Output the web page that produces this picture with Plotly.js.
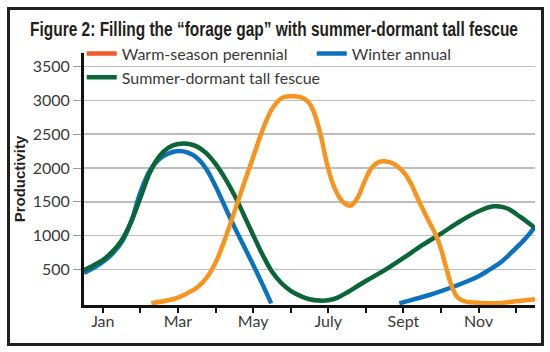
<!DOCTYPE html>
<html>
<head>
<meta charset="utf-8">
<script src="https://cdn.plot.ly/plotly-3.0.1.min.js"></script>
<style>
  html, body { margin: 0; padding: 0; background: #fff; }
  #wrap { position: relative; width: 550px; height: 352px; }
  #chart { width: 550px; height: 352px; }
  #frame { position: absolute; left: 7px; top: 7px; width: 531px; height: 333px;
           border: 3px solid #231f20; pointer-events: none; }
</style>
</head>
<body>
<div id="wrap"><div id="chart"></div><div id="frame"></div></div>
<script>
// Month index: Jan = 1 ... Dec = 12
const monthTicks = [1, 2, 3, 4, 5, 6, 7, 8, 9, 10, 11, 12];
const monthLabels = ["Jan", "", "Mar", "", "May", "", "July", "", "Sept", "", "Nov", ""];
const yTicks = [500, 1000, 1500, 2000, 2500, 3000, 3500];

const seriesNames = ["Warm-season perennial", "Winter annual", "Summer-dormant tall fescue"];

const warmX = [2.29, 2.75, 3.0, 3.25, 3.5, 3.75, 4.0, 4.25, 4.5, 4.75, 5.0, 5.25, 5.5, 5.75, 6.0, 6.25, 6.45, 6.6, 6.78, 6.95, 7.1, 7.3, 7.45, 7.6, 7.78, 7.95, 8.15, 8.35, 8.5, 8.75, 9.0, 9.2, 9.42, 9.65, 9.87, 10.0, 10.15, 10.3, 10.45, 10.66, 11.0, 11.46, 12.0, 12.5];
const warmY = [0, 45, 85, 150, 230, 370, 600, 950, 1350, 1760, 2160, 2560, 2870, 3030, 3060, 3050, 2990, 2850, 2530, 2100, 1800, 1560, 1470, 1444, 1560, 1780, 2000, 2090, 2100, 2060, 1940, 1770, 1500, 1240, 1000, 800, 500, 230, 80, 24, 8, 0, 30, 60];

const winterX = [0.5, 0.75, 1.0, 1.25, 1.5, 1.75, 2.0, 2.25, 2.5, 2.75, 3.0, 3.25, 3.5, 3.75, 4.0, 4.25, 4.5, 4.75, 5.0, 5.25, 5.48, null, 8.89, 9.25, 9.69, 10.0, 10.57, 11.0, 11.28, 11.6, 11.9, 12.2, 12.5];
const winterY = [450, 520, 610, 730, 900, 1200, 1640, 1960, 2130, 2215, 2250, 2230, 2150, 1990, 1730, 1430, 1130, 850, 570, 280, 0, null, 0, 55, 123, 180, 297, 400, 494, 610, 766, 930, 1130];

const fescueX = [0.5, 0.75, 1.0, 1.25, 1.5, 1.75, 2.0, 2.25, 2.5, 2.75, 3.0, 3.25, 3.5, 3.75, 4.0, 4.25, 4.5, 4.75, 5.0, 5.25, 5.5, 5.75, 6.0, 6.25, 6.5, 6.75, 7.0, 7.25, 7.5, 7.75, 8.0, 8.5, 9.0, 9.5, 10.0, 10.5, 11.0, 11.4, 11.75, 12.1, 12.5];
const fescueY = [494, 560, 640, 760, 930, 1200, 1560, 1930, 2170, 2300, 2355, 2360, 2320, 2220, 2060, 1850, 1600, 1310, 1010, 720, 470, 300, 185, 110, 60, 40, 45, 85, 160, 245, 330, 490, 670, 860, 1030, 1210, 1360, 1433, 1405, 1280, 1113];

const colors = { warmLine: "#f7941d", warmKey: "#f15a29", winter: "#0d72bd", fescue: "#0b6637" };

const traces = [
  { x: winterX, y: winterY, name: seriesNames[1], mode: "lines", type: "scatter",
    line: { color: colors.winter, width: 4.5, shape: "spline", smoothing: 1 },
    connectgaps: false, legendrank: 2, hoverinfo: "skip" },
  { x: fescueX, y: fescueY, name: seriesNames[2], mode: "lines", type: "scatter",
    line: { color: colors.fescue, width: 4.5, shape: "spline", smoothing: 1 },
    legendrank: 3, hoverinfo: "skip" },
  { x: warmX, y: warmY, name: seriesNames[0], mode: "lines", type: "scatter",
    line: { color: colors.warmLine, width: 4.5, shape: "spline", smoothing: 1 },
    showlegend: false, hoverinfo: "skip" },
  // legend key for the warm-season series (drawn in its key colour)
  { x: [null], y: [null], name: seriesNames[0], mode: "lines", type: "scatter",
    line: { color: colors.warmKey, width: 4.5 }, legendrank: 1, hoverinfo: "skip" }
];

const labelFont = { family: "Lato, 'Open Sans', sans-serif", size: 16, color: "#3a3a3a" };
const boldNarrow = "'Liberation Sans Narrow', 'Liberation Sans', Arial, sans-serif";

const layout = {
  width: 550, height: 352,
  margin: { l: 84, r: 15, t: 53, b: 47 },
  paper_bgcolor: "#fff", plot_bgcolor: "#fff",
  title: {
    text: "Figure 2: Filling the “forage gap” with summer-dormant tall fescue",
    font: { family: boldNarrow, size: 21, weight: 700, color: "#231f20" },
    x: 274 / 550, xanchor: "center", xref: "container",
    y: 1 - 29 / 352, yanchor: "middle", yref: "container"
  },
  xaxis: {
    range: [0.5, 12.5], tickmode: "array", tickvals: monthTicks, ticktext: monthLabels,
    showgrid: false, zeroline: false, showline: true, linecolor: "#111", linewidth: 3,
    ticks: "outside", ticklen: 5, tickwidth: 2, tickcolor: "#111",
    ticklabelstandoff: -5,
    tickfont: labelFont, fixedrange: true
  },
  yaxis: {
    range: [-25, 3700], tickmode: "array", tickvals: yTicks,
    showgrid: true, gridcolor: "#bdbdbd", gridwidth: 1.5, zeroline: false,
    showline: true, linecolor: "#111", linewidth: 3,
    ticks: "outside", ticklen: 8, tickwidth: 1, tickcolor: "#9a9a9a",
    tickfont: labelFont, fixedrange: true,
    title: { text: "Productivity", standoff: 4,
      font: { family: boldNarrow, size: 15, weight: 700, color: "#231f20" } }
  },
  showlegend: true,
  legend: {
    orientation: "h", x: -0.005, xanchor: "left",
    y: 1.065, yanchor: "top",
    bgcolor: "rgba(0,0,0,0)", font: labelFont,
    entrywidth: 185, entrywidthmode: "pixels", itemwidth: 30, traceorder: "normal"
  }
};

Plotly.newPlot("chart", traces, layout, { displayModeBar: false, staticPlot: true }).then(function (gd) {
  // condensed title face: scale the real title text horizontally to the reference width
  const t = gd.querySelector(".gtitle");
  if (t) {
    const w = t.getComputedTextLength();
    const cx = parseFloat(t.getAttribute("x"));
    const sx = 488 / w;
    t.setAttribute("transform", "translate(" + cx + ",0) scale(" + sx + ",1) translate(" + (-cx) + ",0)");
  }
});
</script>
</body>
</html>
